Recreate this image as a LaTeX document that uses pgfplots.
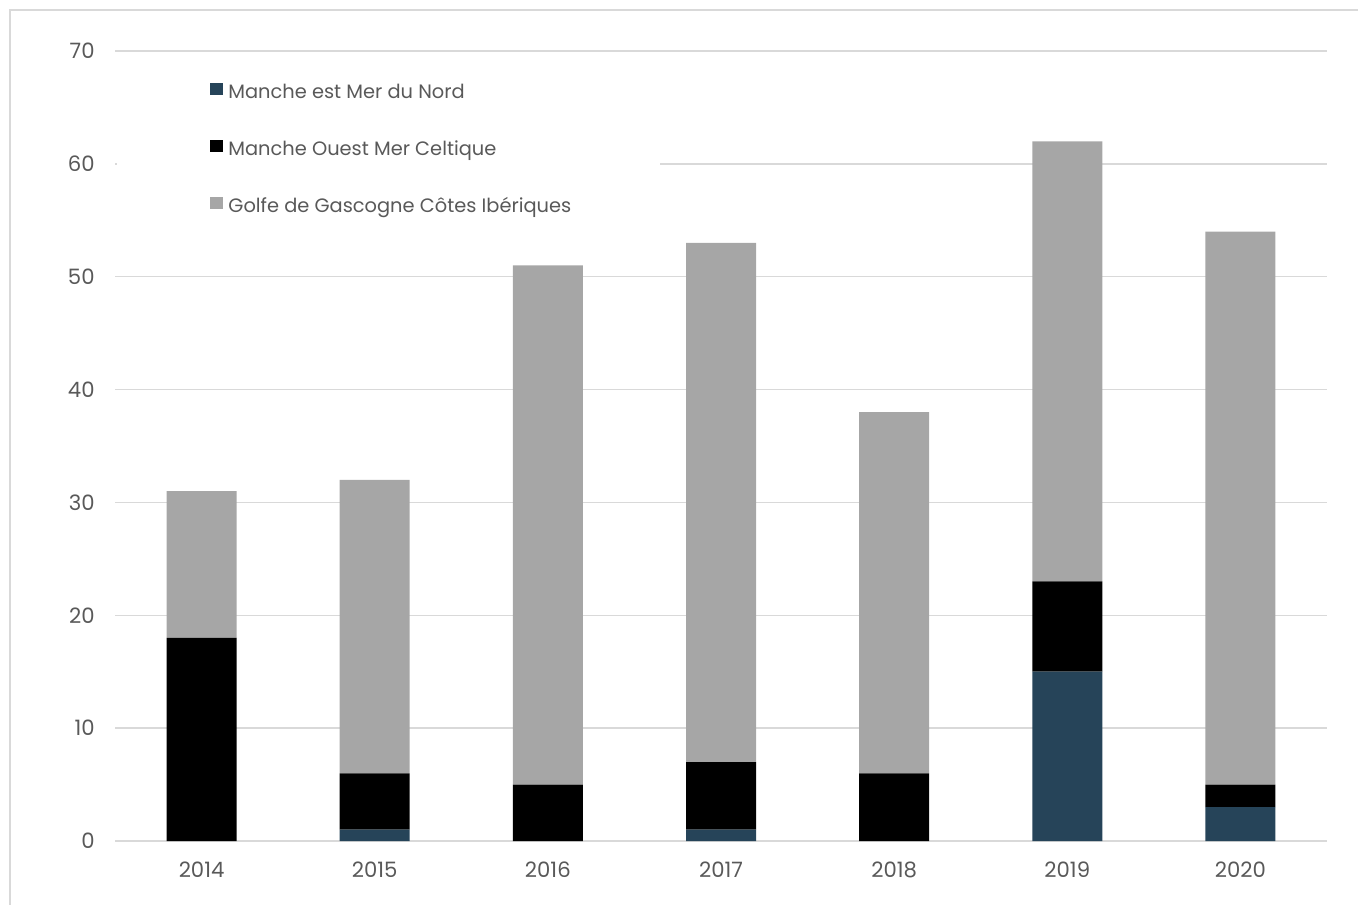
\documentclass[border=0pt]{standalone}
\usepackage{fontspec}
\setmainfont{Poppins}
\usepackage{pgfplots}
\pgfplotsset{compat=1.18}
\definecolor{est}{RGB}{38,68,89}
\definecolor{golfe}{RGB}{166,166,166}
\definecolor{gridc}{RGB}{217,217,217}
\definecolor{txt}{RGB}{89,89,89}
\begin{document}
\begin{tikzpicture}[x=1pt,y=1pt]
\useasboundingbox (0,0) rectangle (679,452);
\draw[gridc, line width=0.8pt] (5,-20) -- (5,447) -- (700,447);
\begin{axis}[at={(57.5pt,31.5pt)}, anchor=south west, scale only axis,
  width=606pt, height=395pt,
  ybar stacked, bar width=35pt,
  xmin=-0.5, xmax=6.5, ymin=0, ymax=70,
  xtick={0,1,2,3,4,5,6},
  xticklabels={2014,2015,2016,2017,2018,2019,2020},
  ytick={0,10,20,30,40,50,60,70},
  ymajorgrids, grid style={gridc, line width=0.75pt},
  axis x line*=bottom, axis y line*=left,
  x axis line style={gridc, line width=1pt, -},
  y axis line style={draw=none},
  major tick length=0pt,
  tick label style={font=\fontsize{10.6}{12}\selectfont, text=txt},
  /pgf/number format/assume math mode=true,
  yticklabel style={inner sep=0pt, xshift=-10pt},
  xticklabel style={inner sep=0pt, yshift=-10pt},
  legend style={at={(rel axis cs:0.0784,0.9605)}, anchor=north west, draw=none, fill=none,
    inner sep=0pt, row sep=18.7pt, font=\fontsize{9.7}{11}\selectfont, text=txt,
    nodes={inner sep=0pt, text height=7pt, text depth=2pt}},
  legend cell align=left,
  legend image code/.code={\fill[#1] (0pt,-0.8pt) rectangle (6.2pt,5.4pt); \path (9pt,0pt);},
]
\fill[white] (axis cs:-0.49,54) rectangle (axis cs:2.645,69);
\addplot[fill=est, draw=none] coordinates {(0,0) (1,1) (2,0) (3,1) (4,0) (5,15) (6,3)};
\addplot[fill=black, draw=none] coordinates {(0,18) (1,5) (2,5) (3,6) (4,6) (5,8) (6,2)};
\addplot[fill=golfe, draw=none] coordinates {(0,13) (1,26) (2,46) (3,46) (4,32) (5,39) (6,49)};
\legend{Manche est Mer du Nord, Manche Ouest Mer Celtique, Golfe de Gascogne Côtes Ibériques}
\end{axis}
\end{tikzpicture}
\end{document}
